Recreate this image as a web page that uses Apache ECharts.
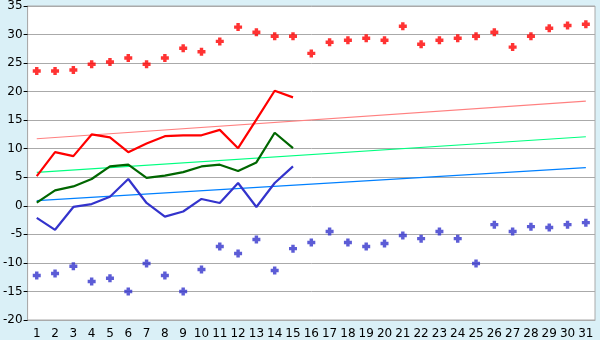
<!DOCTYPE html>
<html><head><meta charset="utf-8">
<script src="https://cdn.jsdelivr.net/npm/echarts@6/dist/echarts.min.js"></script>
<style>html,body{margin:0;padding:0;background:#daf0f7;}#c{width:600px;height:340px;}</style>
</head><body><div id="c"></div>
<script>
const days = Array.from({length:31},(_,i)=>String(i+1));
const maxDots = [23.6,23.6,23.8,24.8,25.2,25.9,24.8,25.9,27.6,27.0,28.8,31.3,30.4,29.7,29.7,26.7,28.65,29.0,29.35,29.0,31.45,28.3,29.0,29.35,29.7,30.4,27.8,29.7,31.1,31.6,31.8];
const minDots = [-12.2,-11.85,-10.6,-13.25,-12.7,-15.0,-10.1,-12.2,-15.0,-11.16,-7.14,-8.36,-5.9,-11.33,-7.5,-6.44,-4.5,-6.44,-7.14,-6.6,-5.2,-5.75,-4.5,-5.75,-10.1,-3.3,-4.5,-3.65,-3.8,-3.3,-2.95];
const maxLine = [5.2,9.4,8.7,12.5,12.0,9.4,10.9,12.2,12.35,12.35,13.3,10.1,15.1,20.15,19.0];
const avgLine = [0.55,2.7,3.4,4.7,6.9,7.2,4.9,5.3,5.9,6.9,7.2,6.1,7.6,12.8,10.1];
const minLine = [-2.1,-4.2,-0.2,0.3,1.6,4.7,0.5,-1.9,-1.0,1.2,0.5,4.0,-0.2,4.0,6.9];
const maxTrend = [11.75,18.35];
const avgTrend = [5.85,12.1];
const minTrend = [0.9,6.7];
const yTicks = {min:-20,max:35,interval:5};

const plus = 'path://M2,0H5V2H7V5H5V7H2V5H0V2H2Z';
const trend = (v,c)=>({type:'line',data:[[days[0],v[0]],[days[30],v[1]]],symbol:'none',lineStyle:{color:c,width:1.2},z:2,silent:true});
const ln = (v,c)=>({type:'line',data:v,symbol:'none',lineStyle:{color:c,width:2.2},z:3});
const dots = (v,c)=>({type:'scatter',data:v,symbol:plus,symbolSize:8,itemStyle:{color:c},z:4});

const chart = echarts.init(document.getElementById('c'));
chart.setOption({
  animation:false,
  backgroundColor:'#daf0f7',
  grid:{left:26,right:5,top:5,bottom:20,show:true,backgroundColor:'#ffffff',borderColor:'#aaaaaa',borderWidth:1},
  xAxis:{type:'category',data:days,boundaryGap:true,
    axisLine:{onZero:false,lineStyle:{color:'#aaaaaa'}},
    axisTick:{alignWithLabel:true,length:5,lineStyle:{color:'#000'}},
    axisLabel:{color:'#000',fontFamily:'DejaVu Sans',fontSize:12,margin:8,interval:0}},
  yAxis:{type:'value',min:yTicks.min,max:yTicks.max,interval:yTicks.interval,
    axisLine:{show:true,lineStyle:{color:'#aaaaaa'}},
    axisTick:{show:true,length:4,lineStyle:{color:'#000'}},
    axisLabel:{color:'#000',fontFamily:'DejaVu Sans',fontSize:12,margin:5},
    splitLine:{lineStyle:{color:'#aaaaaa',width:1}}},
  series:[
    trend(maxTrend,'#ff8080'),trend(avgTrend,'#00ff80'),trend(minTrend,'#0080ff'),
    ln(maxLine,'#ff0000'),ln(avgLine,'#006600'),ln(minLine,'#3333cc'),
    dots(maxDots,'#ff0000'),dots(minDots,'#3333cc')
  ]
});
</script></body></html>
